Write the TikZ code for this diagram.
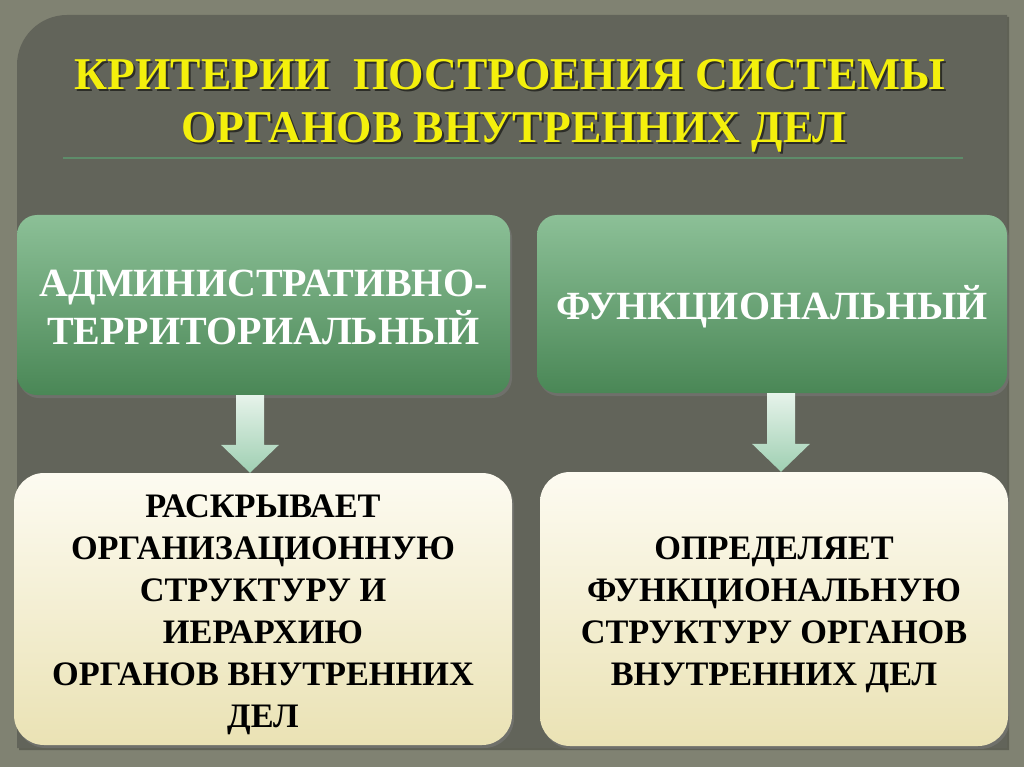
\documentclass[tikz,border=0pt]{standalone}
\usepackage{fontspec}
\setmainfont{Liberation Serif}
\usetikzlibrary{shadows,calc}
\definecolor{frameC}{HTML}{808272}
\definecolor{panelC}{HTML}{62645A}
\definecolor{greenTop}{HTML}{8CC097}
\definecolor{greenBot}{HTML}{4A8756}
\definecolor{creamTop}{HTML}{FDFBF1}
\definecolor{creamBot}{HTML}{EAE2B4}
\definecolor{titleY}{HTML}{F4F00C}
\definecolor{ruleC}{HTML}{5E8C6A}
\definecolor{arrTop}{HTML}{E6F3EA}
\definecolor{arrBot}{HTML}{9FCFB2}
\tikzset{
  greenbox/.style={rounded corners=20pt, top color=greenTop, bottom color=greenBot,
    draw=none, inner sep=0pt,
    drop shadow={opacity=0.45, shadow xshift=2pt, shadow yshift=-3pt}},
  greentext/.style={align=center, text=white, inner sep=0pt,
    font=\fontsize{40}{48}\selectfont\bfseries},
  creambox/.style={rounded corners=30pt, top color=creamTop, bottom color=creamBot,
    draw=none, inner sep=0pt,
    drop shadow={opacity=0.45, shadow xshift=2pt, shadow yshift=-3pt}},
  creamtext/.style={align=center, text=black, inner sep=0pt,
    font=\fontsize{34.3}{42}\selectfont\bfseries},
  titletext/.style={anchor=base, font=\fontsize{45.5}{50}\selectfont\bfseries, inner sep=0pt},
  downarrow/.style={top color=arrTop, bottom color=arrBot, draw=none}
}
\begin{document}
\begin{tikzpicture}[x=1pt,y=-1pt]
\useasboundingbox (0,0) rectangle (1024,767);
\fill[frameC] (0,0) rectangle (1024,767);
% panel
\fill[black,opacity=0.25] (19,750) [rounded corners=50pt] -- (19,17) [sharp corners] -- (1009,17) -- (1009,750) -- cycle;
\fill[panelC] (17,748) [rounded corners=50pt] -- (17,15) [sharp corners] -- (1007,15) -- (1007,748) -- cycle;
% title
\node[titletext, text=black, opacity=0.55] (t1s) at (512,92) {КРИТЕРИИ\ \ ПОСТРОЕНИЯ СИСТЕМЫ};
\node[titletext, text=titleY] (t1) at (510,90) {КРИТЕРИИ\ \ ПОСТРОЕНИЯ СИСТЕМЫ};
\node[titletext, text=black, opacity=0.55] (t2s) at (516,145) {ОРГАНОВ ВНУТРЕННИХ ДЕЛ};
\node[titletext, text=titleY] (t2) at (514,143) {ОРГАНОВ ВНУТРЕННИХ ДЕЛ};
\coordinate (r1) at (63,158);
\coordinate (r2) at (963,158);
\draw[ruleC, line width=1.3pt] (r1) -- (r2);
% boxes
\node[greenbox, minimum width=493pt, minimum height=180pt] (g1) at (263.5,305) {};
\node[greentext] (g1t) at ($(g1.center)+(0,2)$) {АДМИНИСТРАТИВНО-\\ТЕРРИТОРИАЛЬНЫЙ};
\node[greenbox, minimum width=470pt, minimum height=178pt] (g2) at (772,304) {};
\node[greentext] (g2t) at ($(g2.center)+(0,3)$) {ФУНКЦИОНАЛЬНЫЙ};
\node[creambox, minimum width=498pt, minimum height=272pt] (c1) at (263,609) {};
\node[creamtext] (c1t) at ($(c1.center)+(0,6)$)
  {РАСКРЫВАЕТ\\ОРГАНИЗАЦИОННУЮ\\СТРУКТУРУ И\\ИЕРАРХИЮ\\ОРГАНОВ ВНУТРЕННИХ\\ДЕЛ};
\node[creambox, minimum width=468pt, minimum height=274pt] (c2) at (774,609) {};
\node[creamtext] (c2t) at ($(c2.center)+(0,6)$)
  {ОПРЕДЕЛЯЕТ\\ФУНКЦИОНАЛЬНУЮ\\СТРУКТУРУ ОРГАНОВ\\ВНУТРЕННИХ ДЕЛ};
% arrows
\coordinate (ax1) at (250,0);
\coordinate (ax2) at (781,0);
\shade[downarrow] let \p1=(ax1 |- g1.south), \p2=(ax1 |- c1.north) in
  (\x1-14pt,\y1) -- (\x1+14pt,\y1) -- (\x1+14pt,\y2+28pt) -- (\x1+29pt,\y2+28pt)
  -- (\x1,\y2) -- (\x1-29pt,\y2+28pt) -- (\x1-14pt,\y2+28pt) -- cycle;
\shade[downarrow] let \p1=(ax2 |- g2.south), \p2=(ax2 |- c2.north) in
  (\x1-14pt,\y1) -- (\x1+14pt,\y1) -- (\x1+14pt,\y2+28pt) -- (\x1+29pt,\y2+28pt)
  -- (\x1,\y2) -- (\x1-29pt,\y2+28pt) -- (\x1-14pt,\y2+28pt) -- cycle;
\end{tikzpicture}
\end{document}
